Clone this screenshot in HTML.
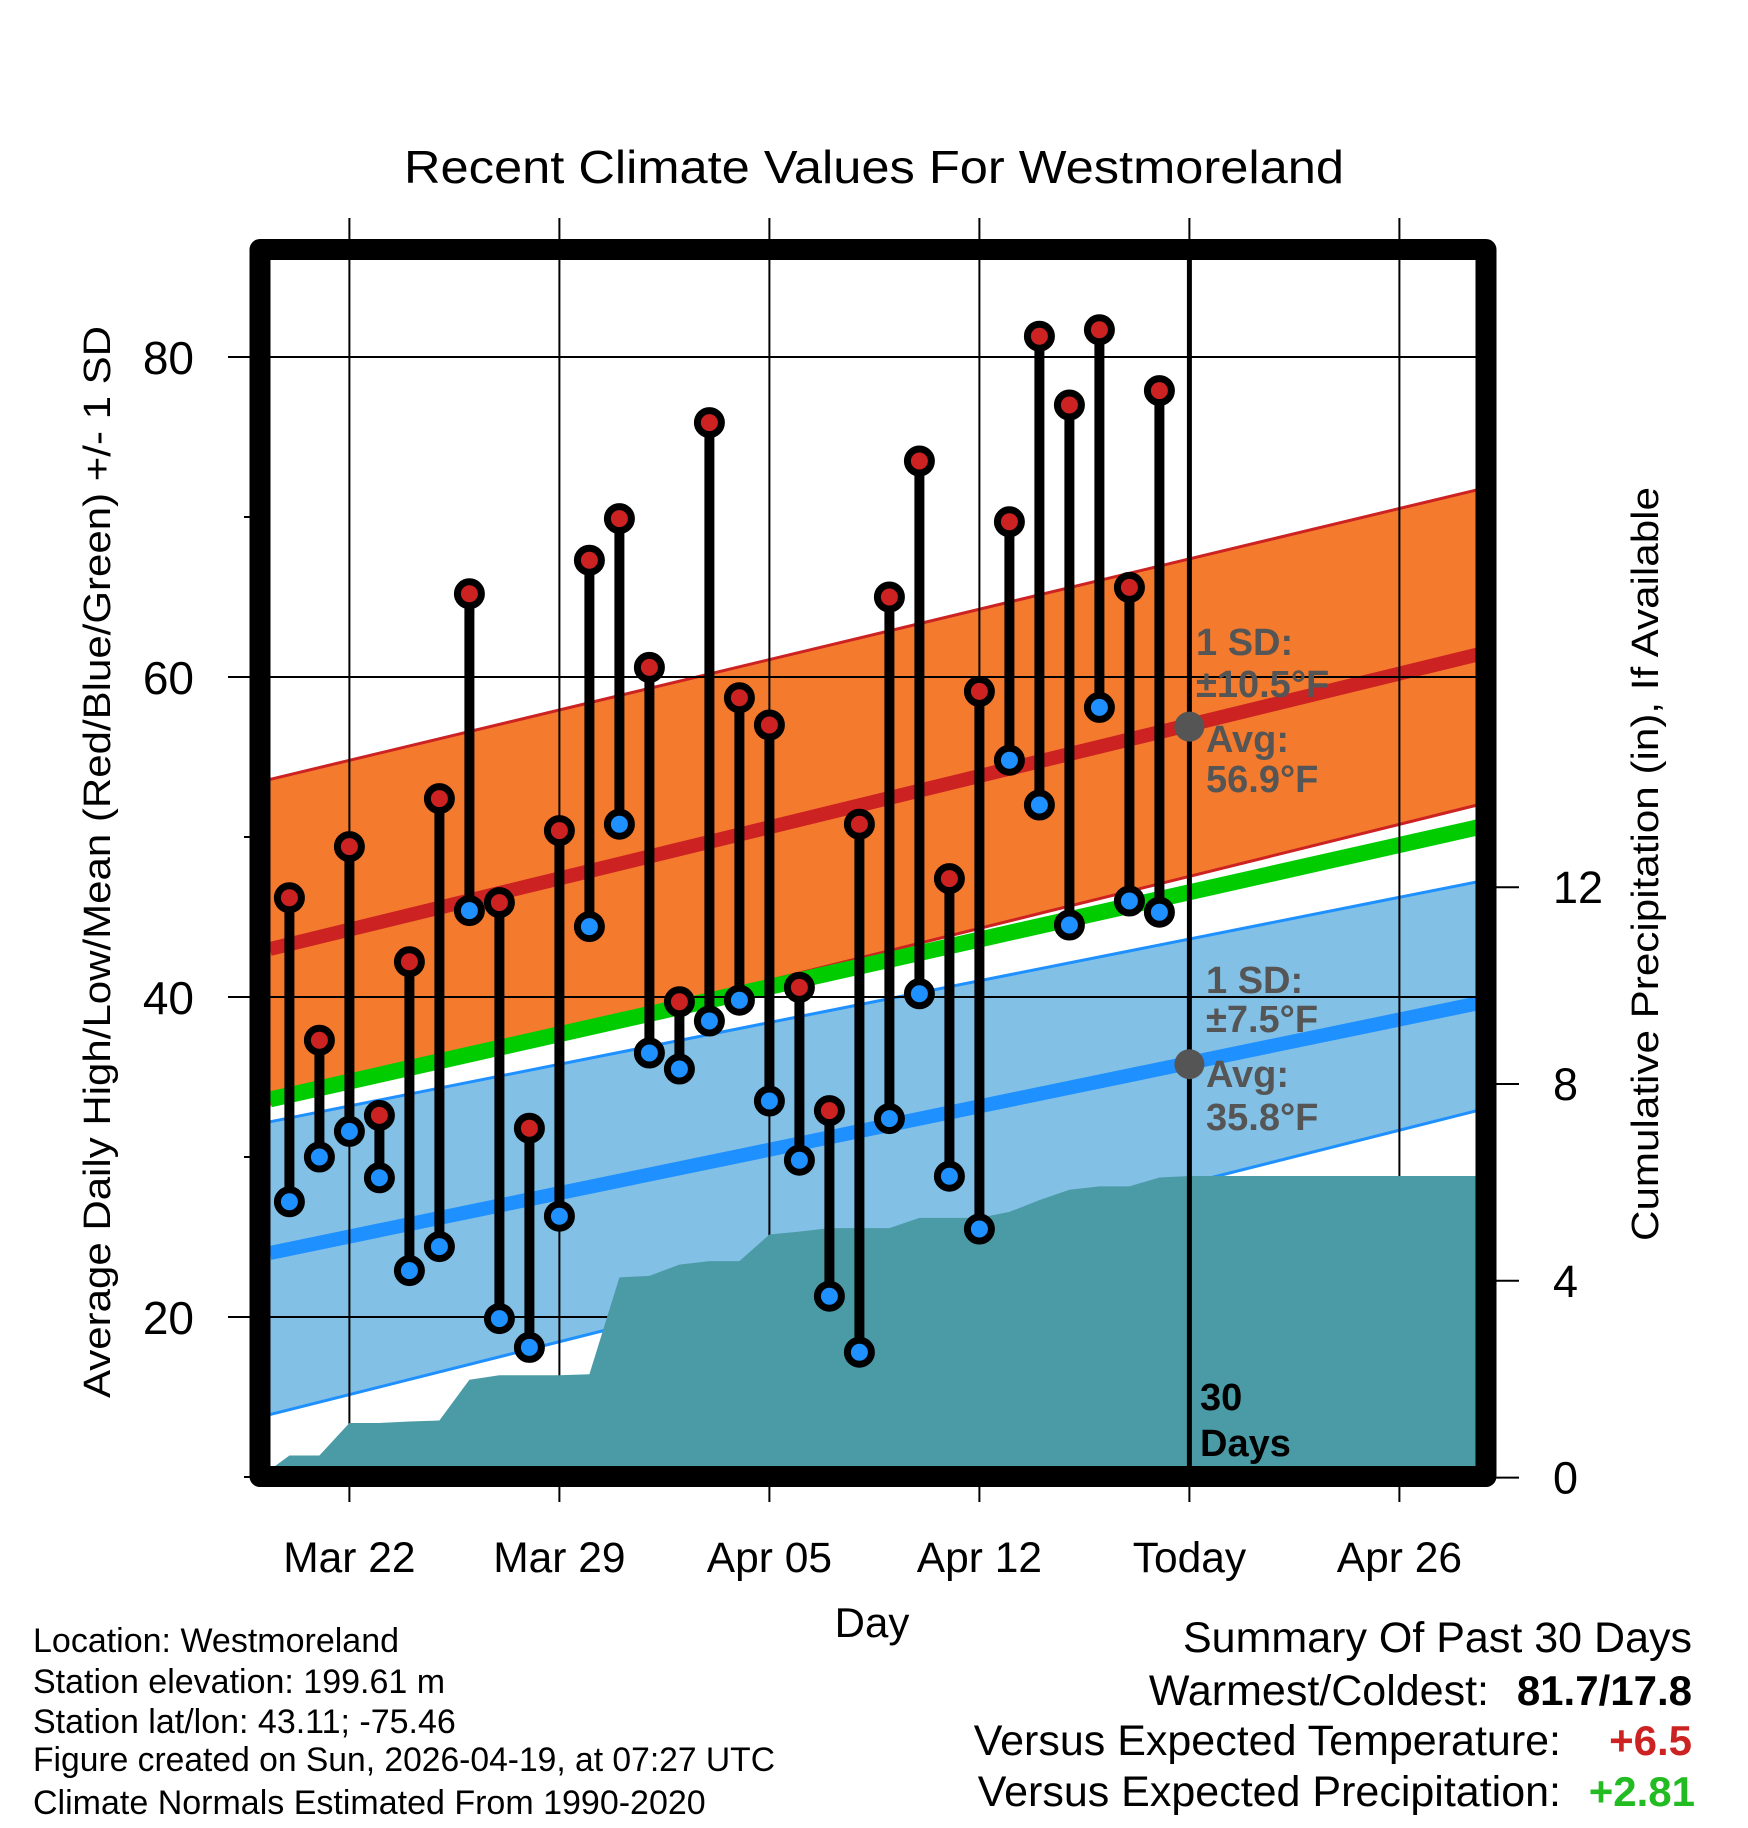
<!DOCTYPE html>
<html><head><meta charset="utf-8"><style>
html,body{margin:0;padding:0;background:#fff;}
svg{display:block;font-family:"Liberation Sans",Arial,sans-serif;}
</style></head><body>
<svg id="chart" width="1748" height="1828" viewBox="0 0 1748 1828" xmlns="http://www.w3.org/2000/svg">
<defs><clipPath id="plotclip"><rect x="260" y="249" width="1226" height="1228"/></clipPath></defs>
<text x="874" y="183" font-size="46" text-anchor="middle" textLength="940" lengthAdjust="spacingAndGlyphs">Recent Climate Values For Westmoreland</text>
<g id="bands" clip-path="url(#plotclip)"></g>
<g id="grid"></g>
<g id="precip" clip-path="url(#plotclip)"></g>
<g id="marks" clip-path="url(#plotclip)"></g>
<g id="annot"></g>
<rect x="260" y="249.5" width="1226" height="1227" fill="none" stroke="#000" stroke-width="21" stroke-linejoin="round"/>
<g id="axes"></g>
<text transform="translate(110,862) rotate(-90)" font-size="38" text-anchor="middle" textLength="1072" lengthAdjust="spacingAndGlyphs">Average Daily High/Low/Mean (Red/Blue/Green) +/- 1 SD</text>
<text transform="translate(1658,864) rotate(-90)" font-size="38" text-anchor="middle" textLength="754" lengthAdjust="spacingAndGlyphs">Cumulative Precipitation (in), If Available</text>
<text x="872" y="1637" font-size="42" text-anchor="middle">Day</text>
<g font-size="34">
<text x="33" y="1652">Location: Westmoreland</text>
<text x="33" y="1693">Station elevation: 199.61 m</text>
<text x="33" y="1733">Station lat/lon: 43.11; -75.46</text>
<text x="33" y="1771" textLength="742" lengthAdjust="spacingAndGlyphs">Figure created on Sun, 2026-04-19, at 07:27 UTC</text>
<text x="33" y="1814">Climate Normals Estimated From 1990-2020</text>
</g>
<g font-size="43" text-anchor="end">
<text x="1692" y="1652">Summary Of Past 30 Days</text>
<text x="1489" y="1705">Warmest/Coldest:</text>
<text x="1692" y="1705" font-weight="bold" font-size="42">81.7/17.8</text>
<text x="1561" y="1755">Versus Expected Temperature:</text>
<text x="1692" y="1755" font-weight="bold" font-size="42" fill="#cc2222">+6.5</text>
<text x="1561" y="1806">Versus Expected Precipitation:</text>
<text x="1695" y="1806" font-weight="bold" font-size="42" fill="#22bb22">+2.81</text>
</g>
</svg>
<script>
// ---- data ----
const days = ["Mar 20","Mar 21","Mar 22","Mar 23","Mar 24","Mar 25","Mar 26","Mar 27","Mar 28","Mar 29","Mar 30","Mar 31","Apr 01","Apr 02","Apr 03","Apr 04","Apr 05","Apr 06","Apr 07","Apr 08","Apr 09","Apr 10","Apr 11","Apr 12","Apr 13","Apr 14","Apr 15","Apr 16","Apr 17","Apr 18"];
const highs = [46.2,37.3,49.4,32.6,42.2,52.4,65.2,45.9,31.8,50.4,67.3,69.9,60.6,39.7,75.9,58.7,57.0,40.6,32.9,50.8,65.0,73.5,47.4,59.1,69.7,81.3,77.0,81.7,65.6,77.9];
const lows = [27.2,30.0,31.6,28.7,22.9,24.4,45.4,19.9,18.1,26.3,44.4,50.8,36.5,35.5,38.5,39.8,33.5,29.8,21.3,17.8,32.4,40.2,28.8,25.5,54.8,52.0,44.5,58.1,46.0,45.3];
const precipDays = [-1,0,1,2,3,4,5,6,7,8,9,10,11,12,13,14,15,16,17,18,19,20,21,22,23,24,25,26,27,28,29,30,40];
const precipCum = [0,0.45,0.45,1.11,1.11,1.14,1.16,1.99,2.08,2.08,2.08,2.10,4.07,4.10,4.33,4.40,4.40,4.94,5.00,5.07,5.07,5.07,5.28,5.28,5.28,5.40,5.64,5.85,5.92,5.92,6.10,6.13,6.13];
const normalDays = [-0.65, 39.6];
const normalHigh = [43.0, 61.4];
const highUpper = [53.6, 71.7];
const highLower = [33.3, 52.0];
const normalLow = [24.0, 39.6];
const lowUpper = [32.2, 47.2];
const lowLower = [13.9, 32.9];
const normalMean = [33.6, 50.6];
const todayIndex = 30;
const avgHighToday = 56.9, avgLowToday = 35.8;
const xTickDays = [2,9,16,23,30,37];
const xTickLabels = ["Mar 22","Mar 29","Apr 05","Apr 12","Today","Apr 26"];
const yTicks = [20,40,60,80];
const yMinor = [10,30,50,70];
const y2Ticks = [0,4,8,12];

// ---- scales ----
const X = d => 349.4 + (d - 2) * 30;
const Y = v => 357 + (80 - v) * 16;
const Y2 = p => 1477.6 - p * 49.2;
const NS = "http://www.w3.org/2000/svg";
function mk(parent, tag, attrs){ const e=document.createElementNS(NS,tag); for(const k in attrs) e.setAttribute(k,attrs[k]); parent.appendChild(e); return e; }
const bands=document.getElementById('bands'), grid=document.getElementById('grid'), precip=document.getElementById('precip'), marks=document.getElementById('marks'), annot=document.getElementById('annot'), axes=document.getElementById('axes');
function bandPts(up, lo){ const a=X(normalDays[0]), b=X(normalDays[1]);
  return `${a},${Y(up[0])} ${b},${Y(up[1])} ${b},${Y(lo[1])} ${a},${Y(lo[0])}`; }
function linePts(arr){ return `${X(normalDays[0])},${Y(arr[0])} ${X(normalDays[1])},${Y(arr[1])}`; }

let e;
e=mk(bands,'polygon',{points:bandPts(highUpper,highLower),fill:'#f47a2e'});
 
e=mk(bands,'polyline',{points:linePts(highUpper),stroke:'#cc2222','stroke-width':3,fill:'none'});
 
e=mk(bands,'polyline',{points:linePts(highLower),stroke:'#cc2222','stroke-width':3,fill:'none'});
 
e=mk(bands,'polygon',{points:bandPts(lowUpper,lowLower),fill:'#82c0e6'});
 
e=mk(bands,'polyline',{points:linePts(lowUpper),stroke:'#1e90ff','stroke-width':3,fill:'none'});
 
e=mk(bands,'polyline',{points:linePts(lowLower),stroke:'#1e90ff','stroke-width':3,fill:'none'});
 
e=mk(bands,'polyline',{points:linePts(normalMean),stroke:'#00cc00','stroke-width':16,fill:'none'});
 
e=mk(bands,'polyline',{points:linePts(normalHigh),stroke:'#cc2222','stroke-width':14,fill:'none'});
 
e=mk(bands,'polyline',{points:linePts(normalLow),stroke:'#1e90ff','stroke-width':14,fill:'none'});
 

// grid
yTicks.forEach(v=>{
  e=mk(grid,'line',{x1:228,x2:1486,y1:Y(v),y2:Y(v),stroke:'#000','stroke-width':2});
   
  e=mk(axes,'text',{x:194,y:Y(v)+17,'font-size':46,'text-anchor':'end'}); e.textContent=v;
   
});
yMinor.forEach(v=>{
  e=mk(axes,'line',{x1:244,x2:252,y1:Y(v),y2:Y(v),stroke:'#000','stroke-width':2});
   
});
xTickDays.forEach((d,i)=>{
  e=mk(grid,'line',{x1:X(d),x2:X(d),y1:218,y2:1502,stroke:'#000','stroke-width':2});
   
  e=mk(axes,'text',{x:X(d),y:1572,'font-size':42.5,'text-anchor':'middle'}); e.textContent=xTickLabels[i];
   
});
y2Ticks.forEach(p=>{
  e=mk(axes,'line',{x1:1496,x2:1519,y1:Y2(p),y2:Y2(p),stroke:'#000','stroke-width':2});
   
  e=mk(axes,'text',{x:1553,y:Y2(p)+16,'font-size':45}); e.textContent=p;
   
});

// precipitation area
let pts = precipDays.map((d,i)=>`${X(d)},${Y2(precipCum[i])}`);
pts.push(`${X(40)},${Y2(0)+10}`); pts.push(`${X(-1)},${Y2(0)+10}`);
e=mk(precip,'polygon',{points:pts.join(' '),fill:'#4a9ba6'});
 

// stems and markers
highs.forEach((h,i)=>{
  e=mk(marks,'line',{x1:X(i),x2:X(i),y1:Y(h),y2:Y(lows[i]),stroke:'#000','stroke-width':10});
   
});
highs.forEach((h,i)=>{
  e=mk(marks,'circle',{cx:X(i),cy:Y(h),r:12,fill:'#cc2222',stroke:'#000','stroke-width':7});
   
  e=mk(marks,'circle',{cx:X(i),cy:Y(lows[i]),r:12,fill:'#1e90ff',stroke:'#000','stroke-width':7});
   
});
e=mk(marks,'line',{x1:X(todayIndex),x2:X(todayIndex),y1:255,y2:1470,stroke:'#000','stroke-width':5});
 

// annotations
e=mk(annot,'circle',{cx:X(todayIndex),cy:Y(avgHighToday),r:15,fill:'#555'});
 
e=mk(annot,'circle',{cx:X(todayIndex),cy:Y(avgLowToday),r:15,fill:'#555'});
 
const ann=[["1 SD:",1196,655,'#555'],["\u00b110.5\u00b0F",1196,697,'#555'],["Avg:",1206,752,'#555'],[avgHighToday.toFixed(1)+"\u00b0F",1206,792,'#555'],
["1 SD:",1206,993,'#555'],["\u00b17.5\u00b0F",1206,1032,'#555'],["Avg:",1206,1087,'#555'],[avgLowToday.toFixed(1)+"\u00b0F",1206,1130,'#555'],
["30",1200,1410,'#000'],["Days",1200,1456,'#000']];
ann.forEach(a=>{
  e=mk(annot,'text',{x:a[1],y:a[2],'font-size':38,'font-weight':'bold',fill:a[3]}); e.textContent=a[0];
   
});
</script>
</body></html>
